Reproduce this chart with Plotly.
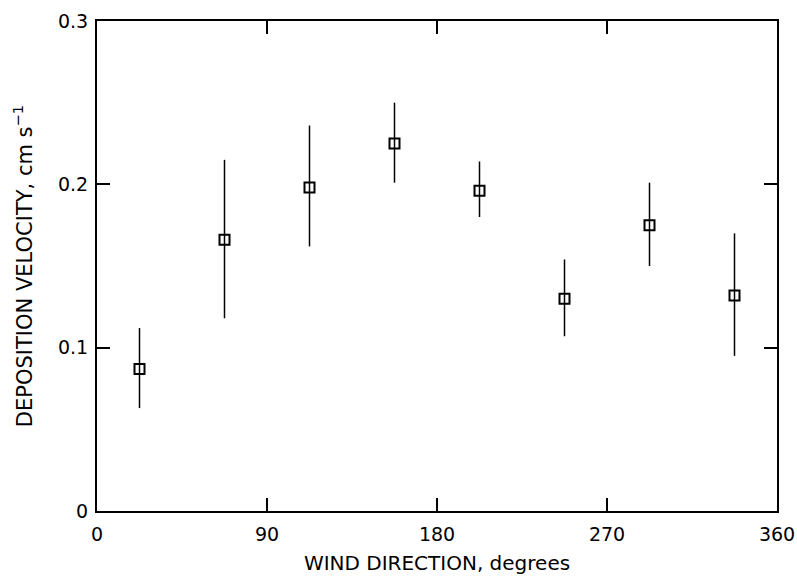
import plotly.graph_objects as go

wind_dir = [22.5, 67.5, 112.5, 157.5, 202.5, 247.5, 292.5, 337.5]
vd = [0.087, 0.166, 0.198, 0.225, 0.196, 0.130, 0.175, 0.132]
err_plus = [0.025, 0.049, 0.038, 0.025, 0.018, 0.024, 0.026, 0.038]
err_minus = [0.024, 0.048, 0.036, 0.024, 0.016, 0.023, 0.025, 0.037]

x_ticks = [0, 90, 180, 270, 360]
y_ticks = [0, 0.1, 0.2, 0.3]
y_tick_text = ["0", "0.1", "0.2", "0.3"]

fig = go.Figure()
fig.add_trace(go.Scatter(
    x=wind_dir, y=vd, mode="markers",
    marker=dict(symbol="square-open", size=10, color="black", line=dict(width=2, color="black")),
    error_y=dict(type="data", symmetric=False, array=err_plus, arrayminus=err_minus,
                 color="black", thickness=1.5, width=0),
    showlegend=False,
))

font_family = "DejaVu Sans, sans-serif"
tick_font = dict(family=font_family, size=19, color="black")
fig.update_layout(
    width=797, height=578,
    margin=dict(l=97, r=20, t=21, b=67, autoexpand=False),
    paper_bgcolor="white", plot_bgcolor="white",
    font=dict(family=font_family, color="black"),
    xaxis=dict(
        range=[0, 360], tickvals=x_ticks, ticks="inside", ticklen=13, tickwidth=1.5,
        tickcolor="black", showline=True, linecolor="black", linewidth=2, mirror="ticks",
        showgrid=False, zeroline=False, tickfont=tick_font, automargin=False,
        ticklabeloverflow="allow", ticklabelstandoff=5,
        title=dict(text="WIND DIRECTION, degrees", font=dict(family=font_family, size=20), standoff=12),
    ),
    yaxis=dict(
        range=[0, 0.3], tickvals=y_ticks, ticktext=y_tick_text, ticks="inside", ticklen=13,
        tickwidth=1.5, tickcolor="black", showline=True, linecolor="black", linewidth=2,
        mirror="ticks", showgrid=False, zeroline=False, tickfont=tick_font, automargin=False,
        ticklabelstandoff=3,
        title=dict(text="DEPOSITION VELOCITY, cm s<sup>−1</sup>", font=dict(family=font_family, size=21), standoff=20),
    ),
)

fig.write_html("out.html")
